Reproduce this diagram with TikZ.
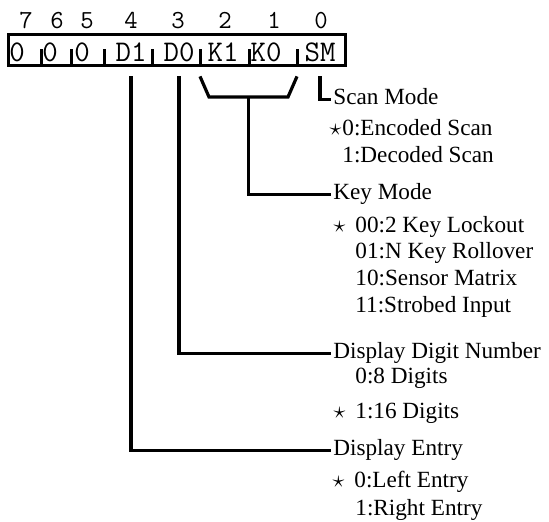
\documentclass[tikz,border=0pt]{standalone}
\usepackage{fontspec}
\setmainfont{Liberation Serif}
\usetikzlibrary{positioning,calc}
\newcommand{\dfltmark}{{\fontsize{13pt}{13pt}\selectfont$\star$}}
\tikzset{
  regbox/.style={draw, line width=1.5pt, minimum width=168.25pt, minimum height=15.5pt,
                 inner sep=0pt, outer sep=0pt},
  bitno/.style={font=\ttfamily\fontsize{13pt}{13pt}\selectfont, anchor=base, inner sep=0pt},
  field/.style={font=\ttfamily\fontsize{15pt}{15pt}\selectfont, anchor=base,
                inner xsep=0pt, inner ysep=7.5pt, text depth=0pt},
  tick/.style={line width=1.5pt},
  title/.style={font=\fontsize{11.6pt}{13pt}\selectfont, anchor=base west, inner sep=1pt,
                text height=0.7em, text depth=0.25em},
  item/.style={font=\fontsize{11.6pt}{13pt}\selectfont, anchor=base west, inner sep=0pt},
  wire/.style={line width=1.6pt},
}

\begin{document}
\begin{tikzpicture}[x=0.5pt, y=-0.5pt]
  \useasboundingbox (0,0) rectangle (549,521);

  % register
  \node[regbox] (reg) at (176.75,49.5) {};
  \foreach \x [count=\i] in {41,71,104,152,200,249,297}
    \coordinate (s\i) at (\x,49);
  \foreach \i in {1,...,7}
    \draw[tick] (s\i |- reg.south) -- (s\i);
  \foreach \x/\b in {26/7,57/6,87/5,131/4,178/3,225/2,274/1,321/0}
    \node[bitno] (n\b) at (\x,28) {\b};
  \foreach \x/\b/\t in {17/7/0,50/6/0,82/5/0,131/4/D1,179/3/D0,223/2/K1,266/1/K0,320/0/SM}
    \node[field] (f\b) at (\x,61) {\t};

  % settings
  \node[title] (scan) at (331,104) {Scan Mode};
  \node[item] (scan0) at (342,135) {\llap{\dfltmark\hspace{0.5pt}}0:Encoded Scan};
  \node[item] (scan1) at (342,162) {1:Decoded Scan};

  \node[title] (key) at (331,199) {Key Mode};
  \node[item] (key0) at (355,232) {\llap{\dfltmark\hspace{5pt}}00:2 Key Lockout};
  \node[item] (key1) at (355,258) {01:N Key Rollover};
  \node[item] (key2) at (355,285) {10:Sensor Matrix};
  \node[item] (key3) at (355,312) {11:Strobed Input};

  \node[title] (digits) at (331,358) {Display Digit Number};
  \node[item] (digits0) at (355,383) {0:8 Digits};
  \node[item] (digits1) at (355,418) {\llap{\dfltmark\hspace{5pt}}1:16 Digits};

  \node[title] (entry) at (331,455) {Display Entry};
  \node[item] (entry0) at (354,487) {\llap{\dfltmark\hspace{5pt}}0:Left Entry};
  \node[item] (entry1) at (355,515) {1:Right Entry};

  % leaders
  \draw[wire] (f0.south) |- (scan.west);
  \coordinate (kl) at (209,97);
  \coordinate (kr) at (288,97);
  \draw[wire] (f2.south -| s5) -- (kl) -- (kr) -- (f1.south -| s7);
  \coordinate (kc) at ($(kl)!0.5!(kr)$);
  \draw[wire] (kc) |- (key.west);
  \draw[wire] (f3.south) |- (digits.west);
  \draw[wire] (f4.south) |- (entry.west);
\end{tikzpicture}
\end{document}
